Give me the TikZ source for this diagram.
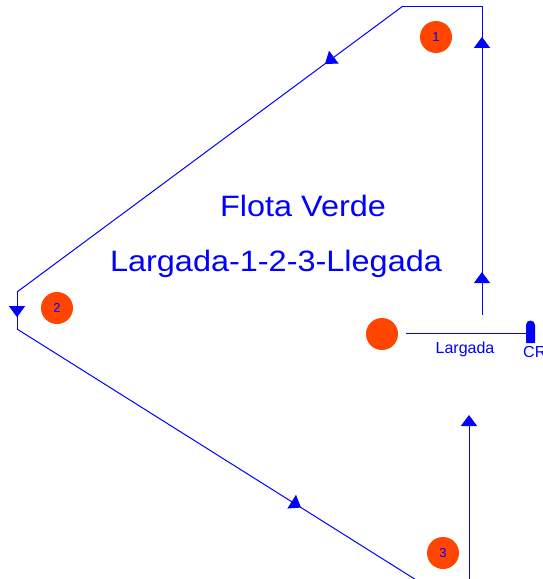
\documentclass[tikz,border=0pt]{standalone}
\usepackage{fontspec}
\setmainfont{Liberation Sans}
\usetikzlibrary{arrows.meta,decorations.markings}

\definecolor{boya}{RGB}{255,69,0}
\tikzset{tri/.tip={Triangle[length=11pt,width=16pt]}}

\begin{document}
\begin{tikzpicture}[x=1pt,y=-1pt,
  course/.style={blue, line width=1pt},
  midarrow/.style={postaction={decorate, decoration={markings, mark=at position #1 with {\arrow{tri}}}}},
  buoy/.style={circle, fill=boya, minimum size=32pt, inner sep=0pt, text=blue, font=\fontsize{13}{13}\selectfont},
  title/.style={text=blue, xscale=1.1, font=\fontsize{29.5}{30}\selectfont}]

\useasboundingbox (0,0) rectangle (543,579);
\clip (0,0) rectangle (543,579);

% course corners
\coordinate (start) at (482,315);
\coordinate (mark1a) at (482,6);
\coordinate (mark1b) at (403,6);
\coordinate (mark2a) at (17,292);
\coordinate (mark2b) at (17,329);
\coordinate (mark3) at (421,583);
\coordinate (finishlow) at (469,583);
\coordinate (finish) at (469,415);

% start line
\coordinate (lineA) at (406,333);
\coordinate (lineB) at (526,333);

\node[buoy] (b1) at (436,37) {1};
\node[buoy] (b2) at (57,308) {2};
\node[buoy] (b3) at (443,553) {3};
\node[buoy] (committee) at (382,334) {};

\draw[course, midarrow=0.139, midarrow=0.9] (start) -- (mark1a);
\draw[course] (mark1a) -- (mark1b);
\draw[course, midarrow=0.202] (mark1b) -- (mark2a);
\draw[course, midarrow=0.68] (mark2a) -- (mark2b);
\draw[course, midarrow=0.703] (mark2b) -- (mark3);
\draw[course, -tri] (finishlow) -- (finish);

\draw[course] (lineA) -- (lineB);
\node[anchor=base, text=blue, font=\fontsize{16}{16}\selectfont] (startlabel) at (465,353) {Largada};

% CR pin
\fill[blue] (526,343) -- (526,325) arc[start angle=180, end angle=360, radius=4.5] -- (535,343) -- cycle;
\node[anchor=base west, inner sep=0pt, text=blue, font=\fontsize{16}{16}\selectfont] (crlabel) at (523,357) {CR};

\node[title, anchor=base] (fleet) at (303,216) {Flota Verde};
\node[title, anchor=base] (order) at (276,271) {Largada-1-2-3-Llegada};

\end{tikzpicture}
\end{document}
